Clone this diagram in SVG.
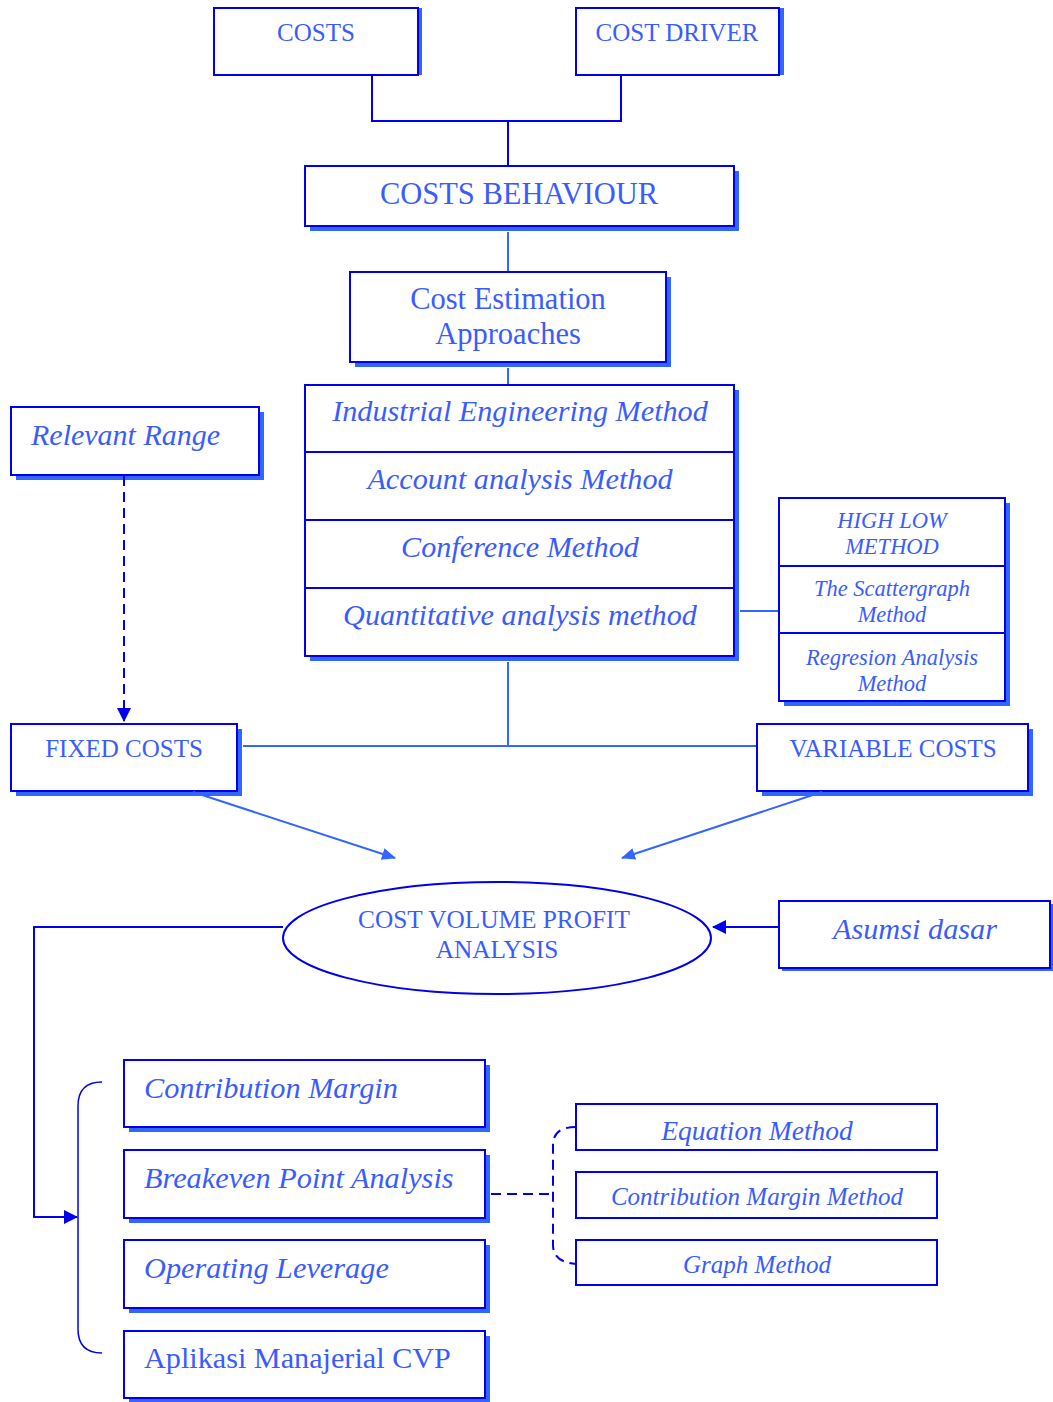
<svg xmlns="http://www.w3.org/2000/svg" width="1053" height="1402" viewBox="0 0 1053 1402">
<style>
.sh{fill:#3366ff}
.bx{fill:#ffffff;stroke:#0000ee;stroke-width:2}
.bt{fill:none;stroke:#0000ee;stroke-width:1.5}
.t{font-family:"Liberation Serif","Times New Roman",serif;fill:#3a5cff;text-anchor:middle}
.i{font-style:italic}
.l{text-anchor:start}
.c{fill:none;stroke:#3366ff;stroke-width:2}
.cd{fill:none;stroke:#0000ee;stroke-width:2}
.dash{stroke-dasharray:10 6}
</style>
<defs>
<marker id="ah" markerWidth="14" markerHeight="14" refX="13" refY="7" orient="auto" markerUnits="userSpaceOnUse" viewBox="0 0 14 14"><path d="M0,1 L14,7 L0,13 z" fill="#3366ff"/></marker>
<marker id="ahd" markerWidth="14" markerHeight="14" refX="13" refY="7" orient="auto" markerUnits="userSpaceOnUse" viewBox="0 0 14 14"><path d="M0,0 L14,7 L0,14 z" fill="#0000ee"/></marker>
</defs>
<g id="costs"><rect class="sh" x="418" y="8" width="4" height="67"/><rect class="bx" x="214" y="8" width="204" height="67"/><text class="t" x="316" y="41" font-size="25">COSTS</text></g>
<g id="cost-driver"><rect class="sh" x="779" y="8" width="5" height="67"/><rect class="bx" x="576" y="8" width="203" height="67"/><text class="t" x="677" y="41" font-size="25">COST DRIVER</text></g>
<g id="costs-behaviour"><rect class="sh" x="310" y="171" width="429" height="60"/><rect class="bx" x="305" y="166" width="429" height="60"/><text class="t" x="519" y="204" font-size="30.5">COSTS BEHAVIOUR</text></g>
<g id="cost-estimation"><rect class="sh" x="355" y="277" width="316" height="90"/><rect class="bx" x="350" y="272" width="316" height="90"/><text class="t" x="508" y="309" font-size="30.5">Cost Estimation</text><text class="t" x="508" y="344" font-size="30.5">Approaches</text></g>
<g id="methods"><rect class="sh" x="310" y="390" width="429" height="271"/><rect class="bx" x="305" y="385" width="429" height="271"/>
<path class="cd" d="M305,452 H734 M305,520 H734 M305,588 H734"/>
<text class="t i" x="520" y="421" font-size="30.2">Industrial Engineering Method</text>
<text class="t i" x="520" y="489" font-size="30.2">Account analysis Method</text>
<text class="t i" x="520" y="557" font-size="30.2">Conference Method</text>
<text class="t i" x="520" y="625" font-size="30.2">Quantitative analysis method</text></g>
<g id="quant-methods"><rect class="sh" x="784" y="503" width="226" height="203"/><rect class="bx" x="779" y="498" width="226" height="203"/>
<path class="cd" d="M779,566 H1005 M779,633 H1005"/>
<text class="t i" x="892" y="528" font-size="22.5">HIGH  LOW</text>
<text class="t i" x="892" y="554" font-size="22.5">METHOD</text>
<text class="t i" x="892" y="596" font-size="22.5">The Scattergraph</text>
<text class="t i" x="892" y="622" font-size="22.5">Method</text>
<text class="t i" x="892" y="665" font-size="22.5">Regresion Analysis</text>
<text class="t i" x="892" y="691" font-size="22.5">Method</text></g>
<g id="relevant-range"><rect class="sh" x="16" y="412" width="248" height="68"/><rect class="bx" x="11" y="407" width="248" height="68"/><text class="t i l" x="31" y="445" font-size="30">Relevant Range</text></g>
<g id="fixed-costs"><rect class="sh" x="16" y="729" width="226" height="67"/><rect class="bx" x="11" y="724" width="226" height="67"/><text class="t" x="124" y="757" font-size="25">FIXED COSTS</text></g>
<g id="variable-costs"><rect class="sh" x="762" y="729" width="271" height="67"/><rect class="bx" x="757" y="724" width="271" height="67"/><text class="t" x="893" y="757" font-size="25">VARIABLE COSTS</text></g>
<g id="cvp"><ellipse cx="497" cy="938" rx="214" ry="56" fill="#ffffff" stroke="#0000ee" stroke-width="2"/><text class="t" x="494" y="928" font-size="25.3">COST VOLUME PROFIT</text><text class="t" x="497" y="958" font-size="25.3">ANALYSIS</text></g>
<g id="asumsi"><rect class="sh" x="782" y="904" width="271" height="67"/><rect class="bx" x="779" y="901" width="271" height="67"/><text class="t i" x="915" y="939" font-size="30.3">Asumsi dasar</text></g>
<g id="contribution-margin"><rect class="sh" x="129" y="1065" width="361" height="67"/><rect class="bx" x="124" y="1060" width="361" height="67"/><text class="t i l" x="144" y="1098" font-size="30.3">Contribution Margin</text></g>
<g id="breakeven"><rect class="sh" x="129" y="1155" width="361" height="68"/><rect class="bx" x="124" y="1150" width="361" height="68"/><text class="t i l" x="144" y="1188" font-size="30.3">Breakeven Point Analysis</text></g>
<g id="operating-leverage"><rect class="sh" x="129" y="1245" width="361" height="68"/><rect class="bx" x="124" y="1240" width="361" height="68"/><text class="t i l" x="144" y="1278" font-size="30.3">Operating Leverage</text></g>
<g id="aplikasi"><rect class="sh" x="129" y="1336" width="361" height="66"/><rect class="bx" x="124" y="1331" width="361" height="67"/><text class="t l" x="144" y="1368" font-size="30.2">Aplikasi Manajerial CVP</text></g>
<g id="equation-method"><rect class="bx" x="576" y="1104" width="361" height="46"/><text class="t i" x="757" y="1140" font-size="27.5">Equation Method</text></g>
<g id="cm-method"><rect class="bx" x="576" y="1172" width="361" height="46"/><text class="t i" x="757" y="1205" font-size="25">Contribution Margin Method</text></g>
<g id="graph-method"><rect class="bx" x="576" y="1240" width="361" height="45"/><text class="t i" x="757" y="1273" font-size="25">Graph Method</text></g>
<g id="connectors">
<path class="cd" d="M372,76 V121 H621 V76 M508,121 V165"/>
<path class="c" d="M508,232 V271 M508,368 V384"/>
<path class="c" d="M740,611 H778"/>
<path class="c" d="M508,662 V746 M243,746 H756"/>
<path class="cd dash" d="M124,476 V721" marker-end="url(#ahd)"/>
<path class="c" d="M193,792 L395,858" marker-end="url(#ah)"/>
<path class="c" d="M822,792 L622,858" marker-end="url(#ah)"/>
<path class="cd" d="M778,927 H713" marker-end="url(#ahd)"/>
<path class="cd" d="M283,927 H34 V1217 H77" marker-end="url(#ahd)"/>
<path class="bt" d="M102,1082 Q78,1082 78,1106 V1329 Q78,1353 102,1353"/>
<path class="cd dash" d="M491,1194 H553"/>
<path class="cd dash" d="M576,1127 Q553,1127 553,1145 V1245 Q553,1262 576,1264"/>
</g>
</svg>
